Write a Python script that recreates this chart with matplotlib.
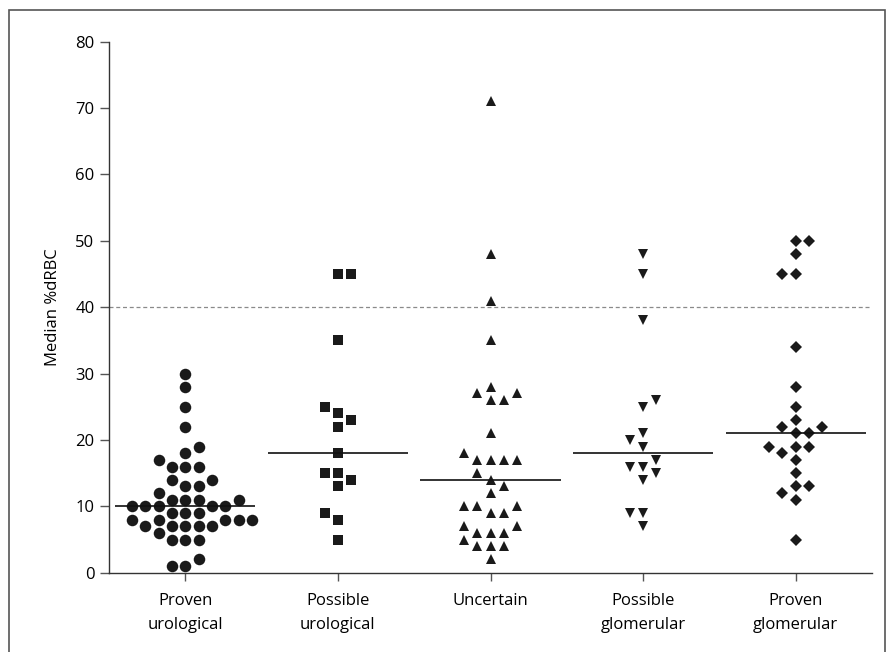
import numpy as np
import matplotlib
matplotlib.use("Agg")
import matplotlib.pyplot as plt
from matplotlib.patches import Rectangle

plt.rcParams['font.family'] = ['Open Sans', 'DejaVu Sans']
plt.rcParams['font.size'] = 12

categories = ['Proven\nurological', 'Possible\nurological', 'Uncertain',
              'Possible\nglomerular', 'Proven\nglomerular']

# median %dRBC per patient
proven_urological = [30, 28, 25, 22, 19, 18, 17, 16, 16, 16, 14, 14, 13, 13, 12,
                     11, 11, 11, 11, 10, 10, 10, 10, 10, 9, 9, 9, 8, 8, 8, 8, 8,
                     7, 7, 7, 7, 7, 6, 5, 5, 5, 2, 1, 1]
possible_urological = [45, 45, 35, 25, 24, 23, 22, 18, 15, 15, 14, 13, 9, 8, 5]
uncertain = [71, 48, 41, 35, 28, 27, 27, 26, 26, 21, 18, 17, 17, 17, 17, 15, 14,
             13, 12, 10, 10, 10, 9, 9, 7, 7, 6, 6, 6, 5, 4, 4, 4, 2]
possible_glomerular = [48, 45, 38, 26, 25, 21, 20, 19, 17, 16, 16, 15, 14, 9, 9, 7]
proven_glomerular = [50, 50, 48, 45, 45, 34, 28, 25, 23, 22, 22, 21, 21, 19, 19,
                     19, 18, 17, 15, 13, 13, 12, 11, 5]
medians = [10, 18, 14, 18, 21]
cutoff = 40

groups = [proven_urological, possible_urological, uncertain,
          possible_glomerular, proven_glomerular]
markers = ['o', 's', '^', 'v', 'D']
msizes = [8.3, 7.3, 7.6, 7.6, 5.8]


def swarm_columns(values, min_gap=1.5):
    # put each point in the nearest column that has no point closer than min_gap
    values = np.asarray(values, dtype=float)
    order = np.argsort(values, kind='stable')
    cols = {}
    out = np.zeros(len(values))
    flip = 1
    for i in order:
        v = values[i]
        cands = [0]
        for n in range(1, 30):
            cands += [-n * flip, n * flip]
        for c in cands:
            if all(abs(v - w) >= min_gap for w in cols.get(c, [])):
                break
        cols.setdefault(c, []).append(v)
        out[i] = c
        if c != 0:
            flip = -flip
    return out


fig = plt.figure(figsize=(8.94, 6.52), dpi=100)
ax = fig.add_axes([109 / 894, (652 - 572.7) / 652, 763 / 894, 531 / 652])

col_w = 13.3 / 152.6  # one marker width in category units
for i, vals in enumerate(groups):
    offs = swarm_columns(vals) * col_w
    ax.plot(i + offs, vals, linestyle='none', marker=markers[i],
            markersize=msizes[i], color='#1a1a1a', markeredgewidth=0,
            clip_on=False, zorder=3)
    ax.hlines(medians[i], i - 0.46, i + 0.46, color='#111111', lw=1.2, zorder=4)

ax.axhline(cutoff, color='#8a8a8a', lw=0.9, linestyle=(0, (3.2, 2.2)), zorder=2)

ax.set_xlim(-0.5, 4.5)
ax.set_ylim(0, 80)
ax.set_yticks(range(0, 81, 10))
ax.set_xticks(range(len(categories)))
ax.set_xticklabels(categories, linespacing=1.65)
ax.set_ylabel('Median %dRBC')
ax.yaxis.set_label_coords(-0.063, 0.5)

for s in ['top', 'right']:
    ax.spines[s].set_visible(False)
for s in ['left', 'bottom']:
    ax.spines[s].set_color('#333333')
    ax.spines[s].set_linewidth(1.0)
ax.tick_params(axis='y', length=6.5, width=1.0, color='#555555', pad=4)
ax.tick_params(axis='x', length=6, width=1.0, color='#555555', pad=8.5)

fig.add_artist(Rectangle((9 / 894, -0.1), 876 / 894, (652 - 10) / 652 + 0.1,
                         transform=fig.transFigure, fill=False,
                         edgecolor='#555555', lw=1.2))

fig.savefig('out.png', dpi=100)
